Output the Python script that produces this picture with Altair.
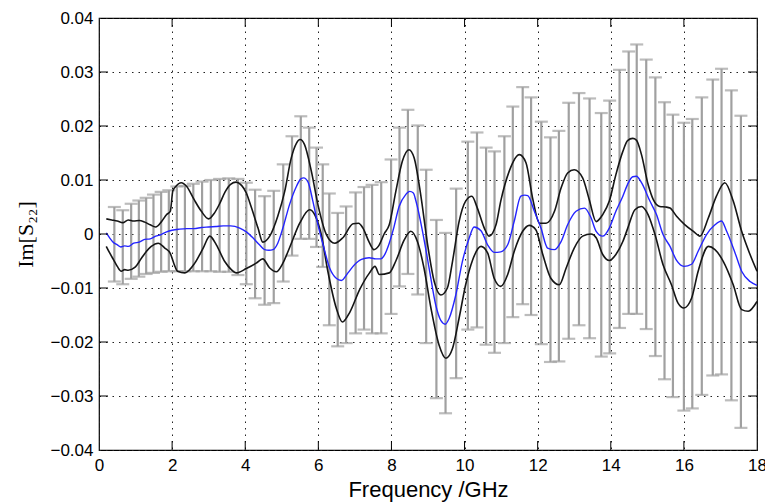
import altair as alt
import pandas as pd

# ---------------- data ----------------
bar_f = [0.42, 0.65, 0.88, 1.09, 1.29, 1.49, 1.70, 1.91, 2.13, 2.35,
         2.58, 2.82, 3.06, 3.30, 3.55, 3.80, 4.03, 4.27, 4.53, 4.78,
         5.04, 5.28, 5.52, 5.75, 5.95, 6.12, 6.30, 6.53, 6.76, 7.02,
         7.25, 7.47, 7.72, 7.99, 8.22, 8.45, 8.72, 8.95, 9.23, 9.48,
         9.77, 10.09, 10.34, 10.59, 10.82, 11.09, 11.32, 11.59, 11.82, 12.10,
         12.35, 12.58, 12.85, 13.13, 13.42, 13.74, 13.97, 14.24, 14.49, 14.71,
         14.97, 15.22, 15.47, 15.70, 16.00, 16.23, 16.49, 16.79, 17.03, 17.30,
         17.56]
bar_top = [0.0050, 0.0044, 0.0056, 0.0062, 0.0067, 0.0073, 0.0078, 0.0081, 0.0088, 0.0089,
           0.0093, 0.0097, 0.0100, 0.0102, 0.0103, 0.0102, 0.0095, 0.0082, 0.0070, 0.0080,
           0.0129, 0.0181, 0.0218, 0.0197, 0.0160, 0.0129, 0.0075, 0.0039, 0.0051, 0.0077,
           0.0087, 0.0091, 0.0096, 0.0138, 0.0197, 0.0230, 0.0201, 0.0119, 0.0026, 0.0002,
           0.0084, 0.0171, 0.0188, 0.0160, 0.0153, 0.0181, 0.0236, 0.0272, 0.0253, 0.0208,
           0.0179, 0.0191, 0.0243, 0.0261, 0.0251, 0.0224, 0.0247, 0.0304, 0.0338, 0.0351,
           0.0323, 0.0290, 0.0244, 0.0221, 0.0206, 0.0213, 0.0253, 0.0286, 0.0306, 0.0266,
           0.0219]
bar_bot = [-0.0088, -0.0093, -0.0083, -0.0079, -0.0074, -0.0072, -0.0070, -0.0069, -0.0069, -0.0069,
           -0.0069, -0.0069, -0.0069, -0.0070, -0.0070, -0.0076, -0.0093, -0.0119, -0.0131, -0.0128,
           -0.0088, -0.0040, -0.0009, -0.0009, -0.0024, -0.0061, -0.0169, -0.0208, -0.0202, -0.0184,
           -0.0177, -0.0184, -0.0184, -0.0148, -0.0097, -0.0074, -0.0112, -0.0202, -0.0304, -0.0332,
           -0.0267, -0.0177, -0.0173, -0.0205, -0.0220, -0.0202, -0.0154, -0.0130, -0.0150, -0.0204,
           -0.0237, -0.0236, -0.0194, -0.0169, -0.0193, -0.0227, -0.0221, -0.0174, -0.0148, -0.0148,
           -0.0176, -0.0226, -0.0269, -0.0302, -0.0327, -0.0323, -0.0298, -0.0262, -0.0260, -0.0308,
           -0.0359]

mean_f = [0.20, 0.30, 0.40, 0.50, 0.60, 0.70, 0.80, 0.95, 1.10, 1.25,
          1.40, 1.55, 1.70, 1.85, 2.00, 2.20, 2.40, 2.60, 2.80, 3.00,
          3.20, 3.40, 3.60, 3.85, 4.03, 4.21, 4.39, 4.53, 4.65, 4.76,
          4.89, 5.03, 5.21, 5.40, 5.52, 5.60, 5.72, 5.85, 5.99, 6.13,
          6.31, 6.49, 6.63, 6.81, 6.99, 7.18, 7.39, 7.57, 7.71, 7.80,
          7.94, 8.05, 8.21, 8.39, 8.50, 8.60, 8.67, 8.85, 9.03, 9.21,
          9.35, 9.47, 9.58, 9.76, 9.94, 10.13, 10.26, 10.45, 10.63, 10.81,
          10.99, 11.18, 11.36, 11.54, 11.65, 11.73, 11.91, 12.09, 12.27, 12.46,
          12.64, 12.82, 13.05, 13.28, 13.46, 13.60, 13.78, 13.96, 14.14, 14.33,
          14.46, 14.60, 14.70, 14.84, 15.07, 15.25, 15.43, 15.62, 15.80, 16.00,
          16.21, 16.39, 16.62, 16.85, 17.03, 17.17, 17.40, 17.58, 17.81, 18.00]
mean_v = [0.0002, -0.0008, -0.0016, -0.0020, -0.0024, -0.0022, -0.0023, -0.0017, -0.0015, -0.0010,
          -0.0009, -0.0004, -0.0001, 0.0004, 0.0007, 0.0009, 0.0010, 0.0010, 0.0012, 0.0013,
          0.0014, 0.0015, 0.0015, 0.0011, 0.0004, -0.0007, -0.0020, -0.0029, -0.0030, -0.0029,
          -0.0017, 0.0011, 0.0054, 0.0088, 0.0102, 0.0104, 0.0096, 0.0061, 0.0017, -0.0020,
          -0.0063, -0.0082, -0.0086, -0.0072, -0.0057, -0.0047, -0.0044, -0.0046, -0.0046, -0.0040,
          -0.0017, 0.0008, 0.0051, 0.0073, 0.0079, 0.0076, 0.0061, 0.0005, -0.0063, -0.0131,
          -0.0160, -0.0167, -0.0156, -0.0113, -0.0051, -0.0007, 0.0013, 0.0006, -0.0020, -0.0034,
          -0.0033, -0.0020, 0.0024, 0.0070, 0.0072, 0.0071, 0.0042, 0.0011, -0.0026, -0.0029,
          -0.0014, 0.0017, 0.0042, 0.0048, 0.0030, 0.0005, -0.0004, 0.0011, 0.0042, 0.0070,
          0.0092, 0.0106, 0.0107, 0.0095, 0.0061, 0.0036, -0.0001, -0.0023, -0.0049, -0.0060,
          -0.0056, -0.0032, -0.0001, 0.0017, 0.0024, 0.0005, -0.0035, -0.0069, -0.0088, -0.0095]

up_f = [0.20, 0.35, 0.50, 0.65, 0.80, 0.95, 1.10, 1.25, 1.40, 1.55,
        1.70, 1.85, 1.95, 2.02, 2.10, 2.25, 2.40, 2.60, 2.80, 3.00,
        3.15, 3.30, 3.45, 3.60, 3.75, 3.90, 4.03, 4.16, 4.35, 4.48,
        4.67, 4.89, 5.08, 5.26, 5.40, 5.50, 5.62, 5.81, 5.99, 6.22,
        6.45, 6.67, 6.95, 7.10, 7.22, 7.39, 7.52, 7.65, 7.80, 7.94,
        8.12, 8.30, 8.48, 8.62, 8.80, 8.99, 9.17, 9.35, 9.53, 9.67,
        9.85, 10.03, 10.20, 10.35, 10.54, 10.67, 10.86, 10.99, 11.22, 11.50,
        11.68, 11.86, 12.05, 12.23, 12.46, 12.64, 12.82, 13.00, 13.23, 13.41,
        13.60, 13.78, 13.96, 14.14, 14.33, 14.46, 14.60, 14.70, 14.84, 15.02,
        15.16, 15.34, 15.50, 15.62, 15.80, 16.03, 16.26, 16.44, 16.67, 16.89,
        17.12, 17.35, 17.58, 17.81, 18.00]
up_v = [0.0028, 0.0026, 0.0024, 0.0021, 0.0026, 0.0024, 0.0025, 0.0022, 0.0017, 0.0013,
        0.0022, 0.0036, 0.0042, 0.0080, 0.0088, 0.0095, 0.0088, 0.0064, 0.0042, 0.0028,
        0.0038, 0.0056, 0.0078, 0.0092, 0.0096, 0.0090, 0.0076, 0.0051, 0.0011, -0.0015,
        -0.0004, 0.0033, 0.0079, 0.0141, 0.0168, 0.0175, 0.0166, 0.0116, 0.0054, -0.0001,
        -0.0017, -0.0007, 0.0019, 0.0020, 0.0011, -0.0015, -0.0029, -0.0022, 0.0000, 0.0017,
        0.0079, 0.0135, 0.0156, 0.0141, 0.0073, -0.0020, -0.0088, -0.0113, -0.0100, -0.0051,
        0.0023, 0.0061, 0.0070, 0.0048, 0.0011, -0.0004, 0.0017, 0.0061, 0.0116, 0.0147,
        0.0132, 0.0067, 0.0020, 0.0020, 0.0042, 0.0085, 0.0113, 0.0119, 0.0104, 0.0064,
        0.0023, 0.0036, 0.0061, 0.0110, 0.0153, 0.0173, 0.0177, 0.0174, 0.0147, 0.0092,
        0.0064, 0.0051, 0.0050, 0.0048, 0.0033, 0.0017, 0.0005, -0.0004, 0.0030, 0.0070,
        0.0095, 0.0061, 0.0005, -0.0038, -0.0069]

lo_f = [0.20, 0.30, 0.40, 0.50, 0.61, 0.70, 0.80, 0.98, 1.16, 1.30,
        1.43, 1.62, 1.80, 1.95, 2.05, 2.15, 2.35, 2.62, 2.85, 3.03,
        3.21, 3.44, 3.62, 3.75, 4.03, 4.30, 4.48, 4.67, 4.85, 5.03,
        5.21, 5.49, 5.76, 5.90, 6.08, 6.26, 6.49, 6.66, 6.86, 7.13,
        7.40, 7.55, 7.67, 7.94, 8.12, 8.35, 8.53, 8.71, 8.89, 9.08,
        9.30, 9.49, 9.67, 9.85, 10.03, 10.22, 10.45, 10.63, 10.81, 10.99,
        11.18, 11.36, 11.59, 11.77, 11.95, 12.14, 12.36, 12.59, 12.78, 13.00,
        13.23, 13.46, 13.60, 13.78, 13.96, 14.14, 14.33, 14.46, 14.66, 14.84,
        15.02, 15.21, 15.43, 15.66, 15.84, 16.00, 16.21, 16.39, 16.67, 16.85,
        17.08, 17.35, 17.58, 17.76, 18.00]
lo_v = [-0.0023, -0.0036, -0.0048, -0.0060, -0.0069, -0.0066, -0.0067, -0.0062, -0.0045, -0.0032,
        -0.0023, -0.0017, -0.0026, -0.0036, -0.0055, -0.0069, -0.0072, -0.0054, -0.0026, -0.0004,
        -0.0020, -0.0051, -0.0066, -0.0072, -0.0064, -0.0054, -0.0046, -0.0063, -0.0070, -0.0054,
        -0.0026, 0.0020, 0.0045, 0.0036, -0.0001, -0.0069, -0.0137, -0.0163, -0.0145, -0.0103,
        -0.0072, -0.0060, -0.0075, -0.0072, -0.0050, -0.0011, 0.0005, -0.0014, -0.0063, -0.0137,
        -0.0205, -0.0230, -0.0212, -0.0156, -0.0094, -0.0048, -0.0023, -0.0035, -0.0082, -0.0097,
        -0.0075, -0.0032, 0.0005, 0.0016, 0.0008, -0.0038, -0.0082, -0.0094, -0.0063, -0.0026,
        -0.0004, 0.0000, -0.0007, -0.0038, -0.0049, -0.0038, -0.0014, 0.0010, 0.0045, 0.0051,
        0.0036, -0.0001, -0.0057, -0.0094, -0.0128, -0.0137, -0.0119, -0.0069, -0.0023, -0.0029,
        -0.0051, -0.0094, -0.0140, -0.0143, -0.0125]

x_ticks = [0, 2, 4, 6, 8, 10, 12, 14, 16, 18]
y_ticks = [-0.04, -0.03, -0.02, -0.01, 0.0, 0.01, 0.02, 0.03, 0.04]

# ---------------- chart ----------------
W, H = 658, 432
GRAY = "#a0a0a0"
BLUE = "#2424ff"

xs = alt.Scale(domain=[0, 18], nice=False, zero=False)
ys = alt.Scale(domain=[-0.04, 0.04], nice=False, zero=False)

x_axis = alt.Axis(values=x_ticks, grid=True, gridDash=[1.5, 5], gridColor="#222222",
                  gridWidth=1, gridOpacity=1, tickSize=0, domain=False,
                  labelFlush=False, labelOverlap=False,
                  labelFont="Liberation Sans", labelFontSize=17, labelColor="black",
                  labelPadding=7, title="Frequency /GHz", titleFont="Liberation Sans",
                  titleFontSize=22, titleFontWeight="normal", titleColor="black",
                  titlePadding=6)
y_axis = alt.Axis(values=y_ticks, grid=True, gridDash=[1.5, 5], gridColor="#222222",
                  gridWidth=1, gridOpacity=1, tickSize=0, domain=False,
                  labelFlush=False, labelOverlap=False,
                  labelFont="Liberation Sans", labelFontSize=17, labelColor="black",
                  labelPadding=6,
                  labelExpr="datum.value == 0 ? '0' : format(datum.value, '.2f')",
                  title="Im[S₂₂]", titleFont="Liberation Serif, DejaVu Serif",
                  titleFontSize=22, titleFontWeight="normal", titleColor="black",
                  titlePadding=12)

X = alt.X("x:Q", scale=xs, axis=x_axis)
Y = alt.Y("y:Q", scale=ys, axis=y_axis)

bars = pd.DataFrame({"x": bar_f, "y": bar_top, "y2": bar_bot})
mean_df = pd.DataFrame({"x": mean_f, "y": mean_v})
up_df = pd.DataFrame({"x": up_f, "y": up_v})
lo_df = pd.DataFrame({"x": lo_f, "y": lo_v})
xt = pd.DataFrame({"x": x_ticks[1:-1]})
yt = pd.DataFrame({"y": y_ticks[1:-1]})

err = alt.Chart(bars).mark_rule(color=GRAY, strokeWidth=2.2).encode(
    x=X, y=Y, y2="y2:Q")
cap_top = alt.Chart(bars).mark_tick(orient="horizontal", color=GRAY, size=13,
                                    thickness=2.2).encode(x=X, y=Y)
cap_bot = alt.Chart(bars).mark_tick(orient="horizontal", color=GRAY, size=13,
                                    thickness=2.2).encode(
    x=X, y=alt.Y("y2:Q", scale=ys, axis=y_axis))

upper = alt.Chart(up_df).mark_line(color="#151515", strokeWidth=1.6,
                                   interpolate="monotone").encode(x=X, y=Y)
lower = alt.Chart(lo_df).mark_line(color="#151515", strokeWidth=1.6,
                                   interpolate="monotone").encode(x=X, y=Y)
mean = alt.Chart(mean_df).mark_line(color=BLUE, strokeWidth=1.4,
                                    interpolate="monotone").encode(x=X, y=Y)

tick_b = alt.Chart(xt).mark_rule(color="black", strokeWidth=1).encode(
    x=X, y=alt.value(H), y2=alt.value(H - 9))
tick_t = alt.Chart(xt).mark_rule(color="black", strokeWidth=1).encode(
    x=X, y=alt.value(0), y2=alt.value(9))
tick_l = alt.Chart(yt).mark_rule(color="black", strokeWidth=1).encode(
    y=Y, x=alt.value(0), x2=alt.value(9))
tick_r = alt.Chart(yt).mark_rule(color="black", strokeWidth=1).encode(
    y=Y, x=alt.value(W), x2=alt.value(W - 9))

chart = alt.layer(err, cap_top, cap_bot, upper, lower, mean,
                  tick_b, tick_t, tick_l, tick_r).properties(
    width=W, height=H,
    autosize=alt.AutoSizeParams(type="none"),
    padding={"left": 99, "top": 18, "right": 8, "bottom": 52},
    background="white",
).configure_view(stroke="black", strokeWidth=1.2)

chart.save("out.html", embed_options={"renderer": "svg", "actions": False})
